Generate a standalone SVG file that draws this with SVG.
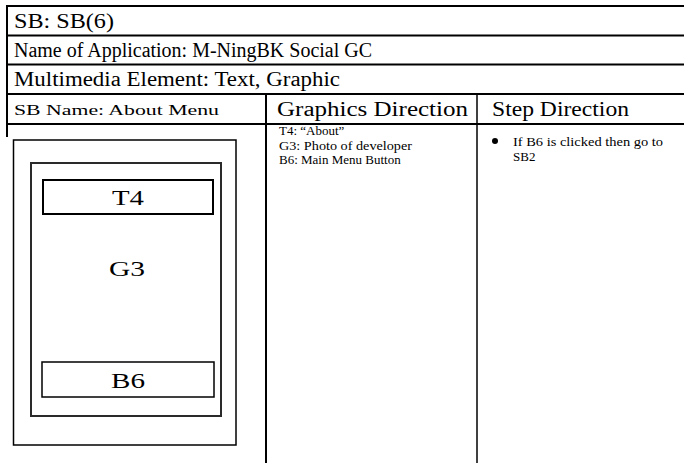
<svg xmlns="http://www.w3.org/2000/svg" width="684" height="463" viewBox="0 0 684 463">
<style>
.ln{stroke:#000;stroke-width:2;fill:none}
.thin{stroke:#000;stroke-width:1.5;fill:none}
.gray{stroke:#2a2a2a;stroke-width:2;fill:none}
text{font-family:"Liberation Serif","Times New Roman",serif;fill:#000}
.t1{font-size:20px}
.t2{font-size:15px}
.t3{font-size:13px}
.t4{font-size:22px}
</style>
<rect width="684" height="463" fill="#fff"/>
<g id="table">
<line class="ln" x1="7" y1="6" x2="684" y2="6"/>
<line class="ln" x1="7" y1="35.5" x2="684" y2="35.5"/>
<line class="ln" x1="7" y1="64.5" x2="684" y2="64.5"/>
<line class="ln" x1="7" y1="94" x2="684" y2="94"/>
<line class="ln" x1="7" y1="124" x2="684" y2="124"/>
<line class="ln" x1="7" y1="5" x2="7" y2="137"/>
<line class="ln" x1="266" y1="94" x2="266" y2="463"/>
<line class="thin" x1="477" y1="94" x2="477" y2="463"/>
</g>
<g id="header">
<text class="t1" x="14" y="28" textLength="100" lengthAdjust="spacingAndGlyphs">SB: SB(6)</text>
<text class="t1" x="14" y="57" textLength="358" lengthAdjust="spacingAndGlyphs">Name of Application: M-NingBK Social GC</text>
<text class="t1" x="14" y="86" textLength="326" lengthAdjust="spacingAndGlyphs">Multimedia Element: Text, Graphic</text>
<text class="t2" x="14" y="115" textLength="205" lengthAdjust="spacingAndGlyphs">SB Name: About Menu</text>
<text class="t1" x="277" y="116" textLength="191" lengthAdjust="spacingAndGlyphs">Graphics Direction</text>
<text class="t1" x="492" y="116" textLength="137" lengthAdjust="spacingAndGlyphs">Step Direction</text>
</g>
<g id="phone">
<rect class="thin" x="13.5" y="140" width="222.5" height="305"/>
<rect class="gray" x="31" y="163" width="190" height="253"/>
</g>
<g id="T4">
<rect class="ln" x="43" y="180" width="170" height="34"/>
<text class="t4" x="128" y="205" text-anchor="middle" textLength="32" lengthAdjust="spacingAndGlyphs">T4</text>
</g>
<g id="G3">
<text class="t4" x="127" y="276" text-anchor="middle" textLength="36" lengthAdjust="spacingAndGlyphs">G3</text>
</g>
<g id="B6">
<rect class="thin" x="42" y="362" width="172" height="35"/>
<text class="t4" x="128" y="388" text-anchor="middle" textLength="34" lengthAdjust="spacingAndGlyphs">B6</text>
</g>
<g id="graphics-direction">
<text class="t3" x="279" y="135">T4: “About”</text>
<text class="t3" x="279" y="149.5" textLength="133" lengthAdjust="spacingAndGlyphs">G3: Photo of developer</text>
<text class="t3" x="279" y="164">B6: Main Menu Button</text>
</g>
<g id="step-direction">
<circle cx="495" cy="141" r="3"/>
<text class="t3" x="513" y="146" textLength="150" lengthAdjust="spacingAndGlyphs">If B6 is clicked then go to</text>
<text class="t3" x="513" y="161">SB2</text>
</g>
</svg>
